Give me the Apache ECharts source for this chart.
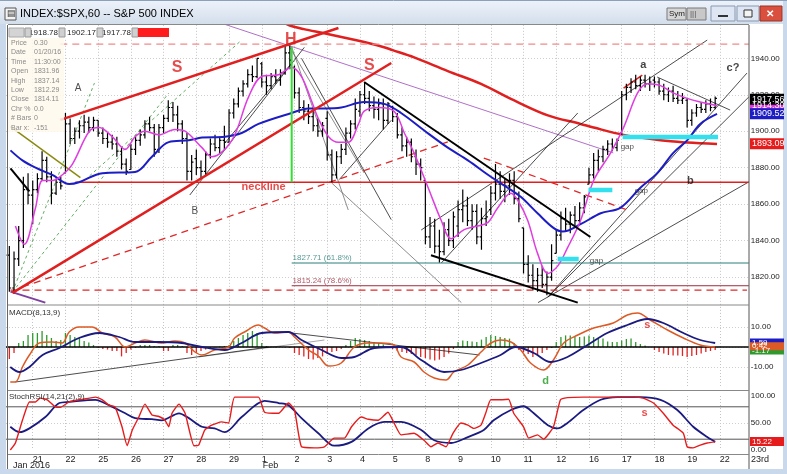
<!DOCTYPE html>
<html><head><meta charset="utf-8">
<script src="https://cdn.jsdelivr.net/npm/echarts@6/dist/echarts.min.js"></script>
<style>html,body{margin:0;padding:0;background:#fff}#c{width:787px;height:474px}</style>
</head><body><div id="c"></div>
<script>
// ---------------- DATA ----------------
const dayLabels = ['20','21','22','25','26','27','28','29','1','2','3','4','5','8','9','10','11','12','16','17','18','19','22'];
// hourly bars [open, high, low, close], 7 per day
const ohlc = [
[1876,1876,1846,1850],[1850,1852,1825,1832],[1832,1837,1812,1814],[1814,1834,1811,1830],[1830,1848,1826,1840],[1840,1875,1836,1868],[1868,1877,1860,1865],
[1865,1873,1849,1868],[1868,1877,1866,1874],[1874,1889,1873,1884],[1884,1886,1872,1875],[1875,1878,1860,1866],[1866,1874,1865,1872],[1872,1875,1868,1870],
[1877,1910,1877,1904],[1904,1907,1893,1896],[1896,1902,1893,1900],[1900,1906,1896,1903],[1903,1909,1899,1905],[1905,1908,1899,1902],[1902,1908,1900,1906],
[1906,1906,1897,1899],[1899,1902,1893,1896],[1896,1899,1891,1894],[1894,1898,1890,1893],[1893,1897,1886,1889],[1889,1891,1879,1882],[1882,1885,1876,1878],
[1879,1893,1879,1890],[1890,1897,1887,1895],[1895,1901,1892,1898],[1898,1906,1896,1904],[1904,1908,1900,1902],[1902,1904,1886,1890],[1890,1904,1888,1902],
[1902,1909,1899,1907],[1907,1917,1905,1913],[1913,1916,1905,1909],[1909,1914,1900,1904],[1904,1906,1893,1896],[1896,1899,1873,1878],[1878,1887,1873,1883],
[1885,1890,1876,1880],[1880,1884,1874,1878],[1878,1889,1876,1887],[1887,1896,1885,1893],[1893,1898,1889,1891],[1891,1897,1888,1895],[1895,1903,1890,1894],
[1894,1912,1894,1910],[1910,1918,1907,1915],[1915,1924,1913,1922],[1922,1928,1919,1926],[1926,1934,1924,1931],[1931,1936,1927,1930],[1930,1940,1929,1940],
[1937,1938,1924,1927],[1927,1931,1920,1925],[1925,1932,1923,1930],[1930,1934,1926,1928],[1928,1934,1925,1932],[1932,1947,1931,1943],[1943,1947,1934,1939],
[1935,1936,1918,1921],[1921,1924,1910,1913],[1913,1917,1906,1911],[1911,1915,1904,1908],[1908,1912,1900,1903],[1903,1907,1897,1900],[1900,1905,1897,1903],
[1907,1911,1884,1887],[1887,1890,1872,1876],[1876,1889,1874,1886],[1886,1893,1882,1890],[1890,1902,1887,1899],[1899,1906,1896,1904],[1904,1918,1901,1912],
[1911,1922,1908,1920],[1920,1927,1915,1918],[1918,1922,1911,1914],[1914,1919,1907,1912],[1912,1918,1906,1915],[1915,1918,1901,1906],[1906,1916,1904,1915],
[1913,1914,1905,1908],[1908,1910,1896,1898],[1898,1902,1889,1892],[1892,1897,1886,1894],[1894,1896,1883,1886],[1886,1890,1876,1882],[1882,1885,1873,1880],
[1873,1873,1838,1842],[1842,1853,1836,1848],[1848,1852,1833,1837],[1837,1846,1828,1834],[1834,1850,1832,1846],[1846,1852,1837,1840],[1840,1856,1836,1853],
[1848,1862,1842,1857],[1857,1868,1850,1859],[1859,1864,1848,1851],[1851,1860,1846,1856],[1856,1860,1838,1842],[1842,1858,1835,1852],[1852,1862,1848,1853],
[1857,1870,1854,1866],[1866,1882,1862,1871],[1871,1878,1863,1867],[1867,1874,1861,1870],[1870,1877,1865,1873],[1873,1878,1860,1863],[1863,1867,1850,1852],
[1847,1847,1822,1827],[1827,1832,1817,1821],[1821,1827,1813,1818],[1818,1825,1812,1821],[1821,1826,1814,1816],[1816,1823,1810,1820],[1820,1838,1818,1829],
[1833,1846,1833,1843],[1843,1856,1840,1852],[1852,1858,1845,1849],[1849,1856,1844,1854],[1854,1859,1848,1851],[1851,1861,1849,1858],[1858,1865,1855,1864],
[1871,1880,1871,1876],[1876,1888,1874,1884],[1884,1890,1878,1886],[1886,1892,1883,1890],[1890,1895,1887,1893],[1893,1896,1889,1891],[1891,1896,1889,1895],
[1899,1922,1898,1920],[1920,1926,1917,1924],[1924,1929,1921,1927],[1927,1931,1923,1925],[1925,1930,1922,1928],[1928,1931,1924,1926],[1926,1930,1922,1927],
[1928,1930,1924,1927],[1927,1929,1920,1922],[1922,1926,1917,1920],[1920,1924,1916,1922],[1922,1925,1916,1918],[1918,1922,1915,1917],[1917,1921,1915,1918],
[1917,1918,1902,1906],[1906,1912,1903,1910],[1910,1915,1908,1913],[1913,1916,1910,1912],[1912,1917,1910,1915],[1915,1918,1911,1913],[1913,1919,1912,1918]
];
// moving averages: [bar position, price]
const maFast = [[3.3,1848],[5.2,1838],[7.6,1858],[9.1,1873],[11.2,1873],[13.3,1876],[15.5,1882],[19.1,1900],[21.2,1902],[24,1897],[26.8,1890],[28.9,1897],[31,1900],[34,1898],[37.4,1901],[39.6,1900],[43.2,1891],[45.3,1886],[49.6,1895],[53.2,1919],[56,1930],[59.6,1931],[62.4,1935],[64.5,1930],[66.6,1917],[68.1,1907],[70.3,1897],[72.4,1894],[74.5,1894],[76.7,1904],[77.9,1911],[80.9,1913],[84.3,1911],[86.5,1899],[88.6,1888],[91.6,1869],[94.4,1851],[96.5,1841],[99.3,1846],[102.2,1848],[104.4,1850],[106.5,1858],[109.3,1866],[110.8,1862],[112.9,1851],[115,1833],[117.2,1822],[119.3,1826],[121.4,1836],[124.2,1851],[127,1873],[130.6,1888],[133.4,1902],[136.4,1921],[138.5,1926],[141.3,1925],[144,1921],[147,1918],[149.8,1916],[153.4,1914]];
const maMid = [[2.24,1889.5],[4.8,1884],[7.6,1880],[11.2,1876],[14.8,1871],[16.9,1872],[21.9,1877],[28.9,1877.6],[32.5,1886],[36.1,1894],[40.4,1895],[43.2,1896.5],[48.1,1897],[51.7,1899],[55.3,1904],[62.4,1910],[66,1912.5],[69.4,1912.5],[73,1913],[77.9,1916],[82.2,1915],[85.8,1910],[90.7,1900.5],[95.8,1891],[100.1,1884],[105,1875],[108.6,1869],[111.4,1864],[115,1855],[118.4,1847],[120.4,1845],[124.2,1849],[128.5,1855],[132.7,1858],[137,1869],[140.6,1877],[144,1888],[147,1895],[149.8,1904],[153.4,1909.5]];
const maSlow = [[60.5,1960],[62,1958],[65,1956],[69.4,1953.7],[76,1950],[81.6,1946.5],[84,1944.5],[88.6,1940.5],[95.8,1933],[102.9,1926],[109.9,1917],[117.2,1908.7],[124.2,1904],[127,1902],[133.4,1898],[141.3,1895],[147,1893.8],[153.4,1893]];
// MACD(8,13,9)
const macdLine = [[2.2,-17.5],[3.3,-17.5],[4.8,-10],[6.3,-4],[8.4,2],[11.2,2.5],[13.3,2],[14.8,7.5],[16.9,10],[19.7,10],[21.9,7],[24.6,5],[26.8,0],[28.9,2],[31,3.5],[34.6,2],[37.4,3],[39.6,2],[41.7,-2.5],[43.2,-4],[45.9,-1.5],[48.9,0],[50.2,4.5],[52.3,7.5],[55.3,11],[56.6,9.5],[58.7,7],[61.7,7.5],[63,5],[66,-1.5],[68.1,-4.5],[70.3,-9.5],[73,-8],[75.8,0],[78.8,2],[81.6,2],[84.3,1],[85.8,-5],[88.6,-7.5],[90.7,-12.5],[92.9,-15.5],[95.4,-16.5],[97.1,-12.5],[100.1,-9],[102.9,-2.5],[105,2],[107.1,3.5],[109.3,2.5],[111.4,-1.5],[113.5,-8],[116.3,-11.5],[118.4,-6.5],[120.6,2],[123.6,6],[127,9.5],[131.2,12],[134.2,16],[136.4,17],[139.1,13.5],[142.8,8.5],[146.2,4.5],[149.8,1],[153,0]];
const macdSignal = [[2.2,-10],[4.2,-12.5],[6.3,-10],[9.1,-4],[12.7,-0.5],[16.9,4.5],[21.2,7],[25.5,5],[28.9,2.5],[34,2.5],[38.9,2],[43.2,0],[48.1,-1.5],[51.7,2],[56,7],[61.7,7.5],[64.5,3.5],[68.8,-1.5],[73,-5.5],[75.8,-5],[80.1,-0.5],[85.8,0],[90.1,-6.5],[95,-12.5],[98.6,-11.5],[102.9,-8],[107.1,-4],[110.3,0],[114.2,-3],[117.8,-7.5],[121.4,-5],[125.7,1],[129.9,7],[134.2,11],[138.5,14],[141.9,12],[146.2,7],[149.8,3.5],[153,2]];
// histogram, one value per hourly bar
const macdHist = [
-8,-7,-6,-3,2,3,6,
7,7,8,6,4.5,3,3.5,
7,6,5,4.5,3,2.3,1,
-0.5,-1,-1.3,-2,-2,-4.7,-3,
-1.3,-0.5,1,1,1,0.5,0.5,
-2,-2,1,1,0.5,-3,-4,
-3,-2,-1.3,-0.5,-0.3,0.3,0.5,
1,3,4.5,6,7,8,7,
2,0.5,0.3,-0.3,0.3,-0.3,-0.5,
-3,-4,-4.7,-6,-6.3,-5.5,-4.7,
-3.5,-2.5,-2,-1,1,3,4.5,
4,3.5,3,2.5,2,1.3,-0.5,
-1,-2,-2.5,-3,-3.5,-4,-5,
-5.5,-6.3,-6.7,-6.3,-5,-3.3,-1,
2.5,3.3,3,2.8,2.5,3.7,5,
6,5.5,5,4.5,4.2,2,-1.5,
-2.5,-3.5,-5,-4.5,-3,-1.5,-0.5,
2.5,5,5.8,5.8,5,5,5.3,
5.8,5,4.5,4.2,2.8,2.5,2.5,
3.3,4,4.2,2.5,1.5,0.8,0,
-1.5,-2.5,-3.3,-4,-4.2,-4.2,-4.5,
-5,-4.5,-4,-3.3,-2.5,-2,-1.5
];
// StochRSI(14,21(2),9)
const stochK = [[2.2,0],[3.3,13],[4.8,55],[6.3,89],[7.6,89],[8.6,96],[10.1,93],[11.8,80],[12.9,79],[14.8,89],[16.9,93],[19.1,96],[20.4,98],[21.9,93],[23.3,83],[24.6,80],[26.1,43],[27.2,8],[28.3,37],[29.7,61],[31,85],[32.5,65],[34,62],[35.3,55],[36.1,43],[36.8,68],[38.3,85],[39.6,68],[41.5,8],[42.5,9],[43.8,37],[45.3,46],[47.4,52],[48.9,50],[50.2,98],[55.3,98],[56.6,70],[59.6,68],[61.7,87],[63,74],[64.5,6],[67.3,4],[69.4,6],[71.5,22],[73.7,22],[75.2,43],[77.3,61],[78.8,57],[80.9,55],[83,70],[84.3,50],[85.8,28],[88.6,31],[90.7,18],[92.2,6],[93.7,13],[95.4,6],[96.9,31],[98.6,50],[100.1,46],[101.4,40],[102.9,46],[103.9,68],[105,93],[107.1,93],[108.8,94],[109.9,68],[112,43],[113.1,22],[115,28],[116.3,20],[118.4,43],[119.9,93],[121.4,97],[124.8,98],[135.5,98],[137.6,96],[139.8,87],[141.9,68],[144,46],[146.2,31],[147,6],[148.3,4],[149.8,9],[151.3,13],[153,15]];
const stochD = [[2.2,43],[4.2,33],[6.3,40],[9.7,61],[12.7,87],[14.8,89],[20.4,93],[23.3,83],[26.8,68],[28.9,59],[32.5,57],[34.6,55],[38.3,68],[40.4,59],[43.2,43],[45.9,40],[48.1,33],[51.7,61],[56.6,91],[59.6,87],[61.7,83],[64.5,59],[68.1,31],[71.5,8],[75.2,15],[78.8,40],[82.2,52],[85.8,52],[90.1,37],[92.9,18],[96.5,13],[100.1,24],[103.5,37],[105.6,55],[109.3,74],[112,81],[114.2,68],[117.2,46],[119.3,40],[121.4,50],[124.8,74],[128.5,93],[132.1,98],[137,98],[141.3,93],[144.9,74],[148.3,43],[151.3,24],[153,15]];
// drawn trend lines [pos1, price1, pos2, price2]
const redWedge   = [[12.9,1906.2,72.4,1956.6],[2.67,1811.3,83.7,1937.4]];
const redSolid   = [[16.1,1872,160.2,1872],[133.4,1923.7,137.4,1930.8]];
const pinkDashed = [[12.9,1947.8,160.2,1947.8]];
const redDashed  = [[2.24,1812.8,159.8,1812.8],[4.8,1814.6,95.8,1894.1],[103.5,1885.3,134.2,1856.8]];
const fibTeal    = [[62.4,1827.71,160.2,1827.71]];
const fibRed     = [[62.4,1815.24,160.2,1815.24]];
const headLine   = [[62.4,1946.2,62.4,1872]];
const blackThick = [[77.9,1927,126.3,1842],[92.2,1832,123.6,1806],[2.24,1879.6,6.3,1867]];
const blackThin  = [[90.1,1845.8,151.3,1950],[115.1,1806,160.2,1872.2],[117.2,1809,159.8,1931.9],[117.2,1809,160.2,1918.8],[140.6,1929.7,156.2,1911.6],[40.6,1865,65.1,1946],[48.1,1893.5,62.4,1937.4],[64.5,1940,83.7,1851.5],[72.6,1873.5,83.7,1906],[94.4,1827.7,123.6,1910]];
const greyThin   = [[61.7,1947.3,77.9,1877.1],[62.4,1946.2,74.5,1856.8],[71,1871.5,98.7,1806]];
const purpleThin = [[45.3,1961,131.2,1888.1]];
const purpleThick= [[2.24,1812,9.7,1806]];
const oliveLine  = [[2.24,1902.5,17.2,1874.6]];
const greenDashed= [[2.67,1811.8,20.2,1926.4],[2.67,1811.8,36.1,1920.9],[18.2,1873.3,51.7,1950]];
const gapBars    = [[133.2,1896.8,153.6,1896.8],[125.9,1867.8,131,1867.8],[119.3,1829.9,123.8,1829.9]];
const macdBlackLines = [[3.3,-17.5,57.5,0],[62.4,7,102.6,-4]];
const macdGreyLines  = [[42.5,-5,69.4,3.5]];
// annotations [text, pos, value]
const notesBig   = [['S',37.9,1934.7],['H',62.2,1950],['S',79,1935.8]];
const notesNeck  = [['neckline',56.4,1869.4]];
const notesAB    = [['A',16.7,1923.7],['B',41.7,1856.2]];
const notesWave  = [['a',137.6,1936.3],['b',147.7,1872.7],['c?',156.8,1934.7]];
const notesGap   = [['gap',134.2,1891.3],['gap',137.2,1867.2],['gap',127.6,1828.8]];
const notesFib   = [['1827.71 (61.8%)',62.6,1830.5,'teal'],['1815.24 (78.6%)',62.6,1817.8,'red']];
const macdNotes  = [['s',138.5,11,'red'],['d',116.7,-17,'green']];
const stochNotes = [['s',137.9,68.5,'red']];
// last-value tags
const priceTags = [['1914.30',1914.3,'mag'],['1917.56',1917.56,'black'],['1909.52',1909.52,'blue'],['1893.09',1893.09,'red']];
const macdTags  = [['1.59',2.2,'blue'],['-1.17',-1.8,'green'],['0.42',0.42,'orange']];
const stochTags = [['15.22',15.7,'red']];
const infoStrip = {bars:'74', H:'1918.78', L:'1902.17', T:'1917.78', N:'-0.05'};
const infoRows = [['Price','0.30'],['Date','01/20/16'],['Time','11:30:00'],['Open','1831.96'],['High','1837.14'],['Low','1812.29'],['Close','1814.11'],['Chr %','0.0'],['# Bars','0'],['Bar x:','-151']];

// ---------------- CHART ----------------
const FONT = 'Liberation Sans, Arial, sans-serif';
const chart = echarts.init(document.getElementById('c'), null, {renderer:'canvas'});
const BARPX = 4.69, XMAX = 160.2;
const gridLeft = 8 - 2.24*BARPX;
const gridRight = 787 - (gridLeft + XMAX*BARPX);
const pTop = 58.3 - 20*1.823, pBot = 58.3 + 140*1.823;

function xAxisCfg(gi, showLabels){
  return {type:'value', gridIndex:gi, min:0, max:XMAX, interval:7,
    axisLine:{show:false}, axisTick:{show:false},
    splitLine:{show:true, showMinLine:false, showMaxLine:false, lineStyle:{color:'#c4c4c4', type:[1,2], width:1}},
    axisLabel:{show:showLabels, fontSize:9, fontFamily:FONT, color:'#222', margin:5, align:'left',
      showMinLabel:false, showMaxLabel:false,
      formatter:v=>{const i=Math.round(v/7); if(Math.abs(v-i*7)>0.01||i===0) return ''; return dayLabels[i]||'';}}
  };
}
function yAxisCfg(gi,min,max,interval,fmt,showEnds){
  return {type:'value', gridIndex:gi, position:'right', min, max, interval, scale:true,
    axisLine:{show:false}, axisTick:{show:false},
    splitLine:{show:true, showMinLine:false, showMaxLine:false, lineStyle:{color:'#cfcfcf', type:[1,2]}},
    axisLabel:{fontSize:8, fontFamily:FONT, color:'#222', margin:2, showMinLabel:!!showEnds, showMaxLabel:!!showEnds, formatter:fmt}};
}

const series = [];
series.push({type:'custom', xAxisIndex:0, yAxisIndex:0, clip:true, z:4,
  data: ohlc.map((b,i)=>[i,b[0],b[1],b[2],b[3]]),
  encode:{x:0,y:[1,2,3,4]},
  renderItem:(params,api)=>{
    const x=api.value(0);
    const o=api.coord([x,api.value(1)]), h=api.coord([x,api.value(2)]), l=api.coord([x,api.value(3)]), c=api.coord([x,api.value(4)]);
    const t=1.8, st={stroke:'#000',lineWidth:1.2};
    return {type:'group',children:[
      {type:'line',shape:{x1:h[0],y1:h[1],x2:l[0],y2:l[1]},style:st},
      {type:'line',shape:{x1:o[0]-t,y1:o[1],x2:o[0],y2:o[1]},style:st},
      {type:'line',shape:{x1:c[0],y1:c[1],x2:c[0]+t,y2:c[1]},style:st}]};
  }});
function addMA(data,color,width,z){
  series.push({type:'line',xAxisIndex:0,yAxisIndex:0,data,smooth:0.35,showSymbol:false,symbol:'none',lineStyle:{color,width},z});
}
addMA(maSlow,'#e01f1f',2.5,3);
addMA(maMid,'#1d1dc4',2,5);
addMA(maFast,'#e03ce0',1.5,5);

function addSegs(list,gi,style,z){
  list.forEach(s=>series.push({type:'line',xAxisIndex:gi,yAxisIndex:gi,data:[[s[0],s[1]],[s[2],s[3]]],
    showSymbol:false,symbol:'none',silent:true,lineStyle:style,z:z||3}));
}
addSegs(greenDashed,0,{color:'#3a9a3a',width:0.8,type:[3,3]});
addSegs(oliveLine,0,{color:'#8a8a10',width:1.5});
addSegs(purpleThin,0,{color:'#b070c8',width:1});
addSegs(purpleThick,0,{color:'#8040a0',width:2});
addSegs(greyThin,0,{color:'#707070',width:0.8});
addSegs(blackThin,0,{color:'#202020',width:0.8});
addSegs(blackThick,0,{color:'#000',width:2},6);
addSegs(fibTeal,0,{color:'#2b7f7a',width:1});
addSegs(fibRed,0,{color:'#9e2c3e',width:1});
addSegs(pinkDashed,0,{color:'#f08a8a',width:1.4,type:[7,5]});
addSegs(redDashed,0,{color:'#e02828',width:1.3,type:[7,5]});
addSegs(redSolid,0,{color:'#e01f1f',width:1.5});
addSegs(redWedge,0,{color:'#e01f1f',width:2.5},6);
addSegs(headLine,0,{color:'#33dd33',width:2},6);
addSegs(gapBars,0,{color:'#33e0ee',width:4.5},6);

function addNotes(list,gi,styleFn){
  series.push({type:'scatter',xAxisIndex:gi,yAxisIndex:gi,symbolSize:0,silent:true,z:8,
    data:list.map(n=>({value:[n[1],n[2]],name:n[0],label:styleFn(n)})),
    label:{show:true,formatter:p=>p.name}});
}
addNotes(notesBig,0,()=>({show:true,position:'inside',color:'#e01f1f',fontSize:16,fontWeight:'bold',fontFamily:FONT}));
addNotes(notesNeck,0,()=>({show:true,position:'inside',color:'#e01f1f',fontSize:11,fontWeight:'bold',fontFamily:FONT}));
addNotes(notesAB,0,()=>({show:true,position:'inside',color:'#222',fontSize:10,fontFamily:FONT}));
addNotes(notesWave,0,()=>({show:true,position:'inside',color:'#111',fontSize:11,fontWeight:'bold',fontFamily:FONT}));
addNotes(notesGap,0,()=>({show:true,position:'inside',color:'#222',fontSize:8,fontFamily:FONT}));
addNotes(notesFib,0,n=>({show:true,position:'right',distance:0,color:n[3]==='teal'?'#2b7f7a':'#9e2c3e',fontSize:8,fontFamily:FONT}));

// MACD panel
series.push({type:'bar',xAxisIndex:1,yAxisIndex:1,barWidth:1.3,z:3,silent:true,
  data:macdHist.map((v,i)=>({value:[i,v],itemStyle:{color:v>=0?'#2e9a2e':'#e02424'}}))});
series.push({type:'line',xAxisIndex:1,yAxisIndex:1,data:[[0,0],[XMAX,0]],symbol:'none',lineStyle:{color:'#000',width:1.5},z:4,silent:true});
addSegs(macdGreyLines,1,{color:'#909090',width:0.8});
addSegs(macdBlackLines,1,{color:'#202020',width:0.8});
series.push({type:'line',xAxisIndex:1,yAxisIndex:1,data:macdLine,smooth:0.35,symbol:'none',lineStyle:{color:'#dc5a25',width:1.5},z:5});
series.push({type:'line',xAxisIndex:1,yAxisIndex:1,data:macdSignal,smooth:0.35,symbol:'none',lineStyle:{color:'#1a1a80',width:1.8},z:5});
addNotes(macdNotes,1,n=>({show:true,position:'inside',color:n[3]==='red'?'#e01f1f':'#1f9a1f',fontSize:11,fontWeight:'bold',fontFamily:FONT}));

// Stoch panel
series.push({type:'line',xAxisIndex:2,yAxisIndex:2,data:[[0,80],[XMAX,80]],symbol:'none',lineStyle:{color:'#555',width:1},z:3,silent:true});
series.push({type:'line',xAxisIndex:2,yAxisIndex:2,data:[[0,20],[XMAX,20]],symbol:'none',lineStyle:{color:'#555',width:1},z:3,silent:true});
series.push({type:'line',xAxisIndex:2,yAxisIndex:2,data:stochD,smooth:0.3,symbol:'none',lineStyle:{color:'#1a1a80',width:1.8},z:5});
series.push({type:'line',xAxisIndex:2,yAxisIndex:2,data:stochK,smooth:0.15,symbol:'none',lineStyle:{color:'#e61c1c',width:1.4},z:6});
addNotes(stochNotes,2,()=>({show:true,position:'inside',color:'#e01f1f',fontSize:11,fontWeight:'bold',fontFamily:FONT}));

chart.setOption({
  animation:false, backgroundColor:'#fff',
  grid:[
    {left:gridLeft,right:gridRight,top:pTop,bottom:474-pBot},
    {left:gridLeft,right:gridRight,top:307,height:80},
    {left:gridLeft,right:gridRight,top:396,height:54}],
  xAxis:[xAxisCfg(0,false),xAxisCfg(1,false),xAxisCfg(2,true)],
  yAxis:[
    yAxisCfg(0,1800,1960,20,v=>v.toFixed(2)),
    yAxisCfg(1,-20,20,10,v=>(v===10||v===-10)?v.toFixed(2):''),
    yAxisCfg(2,0,100,50,v=>v.toFixed(2),true)],
  series
});

// ---------------- OVERLAY (frame, title, info, tags) ----------------
const g = [];
const R = (x,y,w,h,fill,stroke,z)=>g.push({type:'rect',shape:{x,y,width:w,height:h},style:{fill,stroke:stroke||null,lineWidth:1},z:z||50,silent:true});
const T = (x,y,text,o)=>g.push({type:'text',x,y,style:Object.assign({text,fill:'#222',font:'9px '+FONT,textVerticalAlign:'middle'},o||{}),z:(o&&o.z)||60,silent:true});
const L = (x1,y1,x2,y2,stroke,w,z)=>g.push({type:'line',shape:{x1,y1,x2,y2},style:{stroke,lineWidth:w||1},z:z||55,silent:true});

// window frame
R(0,0,787,24,new echarts.graphic.LinearGradient(0,0,0,1,[{offset:0,color:'#eef3fa'},{offset:1,color:'#d3deec'}]));
L(0,0.5,787,0.5,'#8aa0bc',1);
R(0,24,6,450,'#c9d8ea'); R(783,0,4,474,'#c9d8ea'); R(0,469,787,5,'#c9d8ea');
L(7.5,25,7.5,469,'#666',1); L(8,24.5,749,24.5,'#888',1);
L(749,25,749,469,'#555',1);
L(8,305,749,305,'#888',1); L(8,390.5,749,390.5,'#888',1); L(8,454.5,749,454.5,'#888',1);
// title
R(5,8,11,12,'#f4f4f4','#555',61); T(7,14,'▤',{font:'9px '+FONT,fill:'#333',z:62});
T(20,14,'INDEX:$SPX,60 -- S&P 500 INDEX',{font:'11px '+FONT,fill:'#000'});
R(667,8,19,12,'#d6d6d6','#7a7a7a'); T(669,14,'Sym',{font:'8px '+FONT,fill:'#222'});
R(687,8,19,12,'#c8c8c8','#7a7a7a'); T(690,14,'|||',{font:'8px '+FONT,fill:'#555'});
R(711,6,24,15,'#dde6f2','#8899b0'); L(718,16,728,16,'#333',2,62);
R(737,6,22,15,'#dde6f2','#8899b0'); R(744,10,8,7,'#f4f4f4','#333',62);
R(760,6,22,15,'#d9503f','#9a3326'); T(766,14,'✕',{font:'bold 10px '+FONT,fill:'#fff'});
// info strip
R(8,26,163,12,'#fff');
R(9,28,15,9,'#d4d4d4','#aaa',61); T(11,32.5,infoStrip.bars,{font:'8px '+FONT,fill:'#444'});
[['H',25,58,infoStrip.H],['L',59,96,infoStrip.L],['T',97,131,infoStrip.T]].forEach(a=>{
  R(a[1],28,6,9,'#d0d0d0','#999',61); T(a[1]+1,32.5,a[0],{font:'7px '+FONT,fill:'#222'});
  T(a[2],32.5,a[3],{font:'8px '+FONT,fill:'#222',textAlign:'right'});
});
R(132,28,6,9,'#d0d0d0','#999',61); T(133,32.5,'N',{font:'7px '+FONT,fill:'#222'});
R(138,28,31,9,'#ff1c1c',null,61); T(167,32.5,infoStrip.N,{font:'8px '+FONT,fill:'#700',textAlign:'right'});
// info box
R(8,38,56,94,'rgba(255,249,236,0.85)');
infoRows.forEach((r,i)=>{ T(11,43+i*9.4,r[0],{font:'7px '+FONT,fill:'#8a8a8a'}); T(34,43+i*9.4,r[1],{font:'7px '+FONT,fill:'#8a8a8a'}); });
// panel titles
T(9,313,'MACD(8,13,9)',{font:'8px '+FONT,fill:'#333'});
T(9,397,'StochRSI(14,21(2),9)',{font:'8px '+FONT,fill:'#333'});
// axis extras
T(13,466,'Jan 2016',{font:'9px '+FONT,fill:'#222'});
const febX = chart.convertToPixel({xAxisIndex:2}, 56);
T(febX+1,466,'Feb',{font:'9px '+FONT,fill:'#222'});
T(751,460,'23rd',{font:'9px '+FONT,fill:'#222'});
// value tags
const tagColors = {black:['#000','#fff'],mag:['#e03ce0','#fff'],blue:['#1d1dc4','#fff'],red:['#e61c1c','#fff'],orange:['#dc5a25','#fff'],green:['#2e9a2e','#fff']};
function tags(list,axis,h){
  list.forEach(t=>{
    const y = chart.convertToPixel({yAxisIndex:axis}, t[1]);
    const c = tagColors[t[2]];
    R(750,y-h/2,34,h,c[0],null,70);
    T(752,y,t[0],{font:(h>9?'9px ':'8px ')+FONT,fill:c[1],z:71});
  });
}
tags(priceTags,0,11);
tags(macdTags,1,8);
tags(stochTags,2,9);
chart.setOption({graphic:g});
</script></body></html>
